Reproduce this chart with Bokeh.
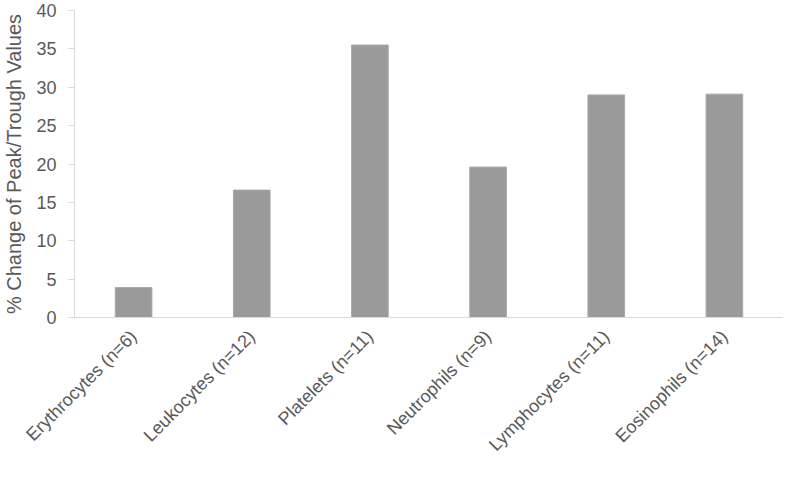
import math
from bokeh.plotting import figure
from bokeh.models import ColumnDataSource, Range1d, FixedTicker
from bokeh.embed import file_html
from bokeh.resources import INLINE

categories = ["Erythrocytes (n=6)", "Leukocytes (n=12)", "Platelets (n=11)",
              "Neutrophils (n=9)", "Lymphocytes (n=11)", "Eosinophils (n=14)"]
values = [3.9, 16.6, 35.5, 19.6, 29.0, 29.1]
y_ticks = [0, 5, 10, 15, 20, 25, 30, 35, 40]

FONT = "Liberation Sans"
TXT = "#595959"

src = ColumnDataSource(dict(cat=categories, val=values))

p = figure(x_range=categories, y_range=Range1d(0, 40), width=783, height=464,
           output_backend="svg", toolbar_location=None,
           min_border_left=69, min_border_right=0, min_border_top=10, min_border_bottom=0)
p.vbar(x="cat", top="val", width=0.31, source=src,
       fill_color="#9a9a9a", line_color="#a8a8a8", line_width=1)

p.outline_line_color = None
p.xgrid.grid_line_color = None
p.ygrid.grid_line_color = None

p.yaxis.ticker = FixedTicker(ticks=y_ticks)
p.yaxis.axis_line_color = "#d9d9d9"
p.yaxis.major_tick_line_color = "#d9d9d9"
p.yaxis.major_tick_out = 6
p.yaxis.major_tick_in = 0
p.yaxis.minor_tick_line_color = None
p.yaxis.major_label_text_font = FONT
p.yaxis.major_label_text_font_size = "18px"
p.yaxis.major_label_text_color = TXT
p.yaxis.major_label_standoff = 12
p.yaxis.axis_label = "% Change of Peak/Trough Values"
p.yaxis.axis_label_text_font = FONT
p.yaxis.axis_label_text_font_size = "20px"
p.yaxis.axis_label_text_font_style = "normal"
p.yaxis.axis_label_text_color = TXT
p.yaxis.axis_label_standoff = 8

p.xaxis.axis_line_color = "#d9d9d9"
p.xaxis.major_tick_line_color = None
p.xaxis.minor_tick_line_color = None
p.xaxis.major_label_orientation = math.pi / 4
p.xaxis.major_label_text_font = FONT
p.xaxis.major_label_text_font_size = "18px"
p.xaxis.major_label_text_color = TXT
p.xaxis.major_label_standoff = 10

open("out.html", "w").write(file_html(p, INLINE))
